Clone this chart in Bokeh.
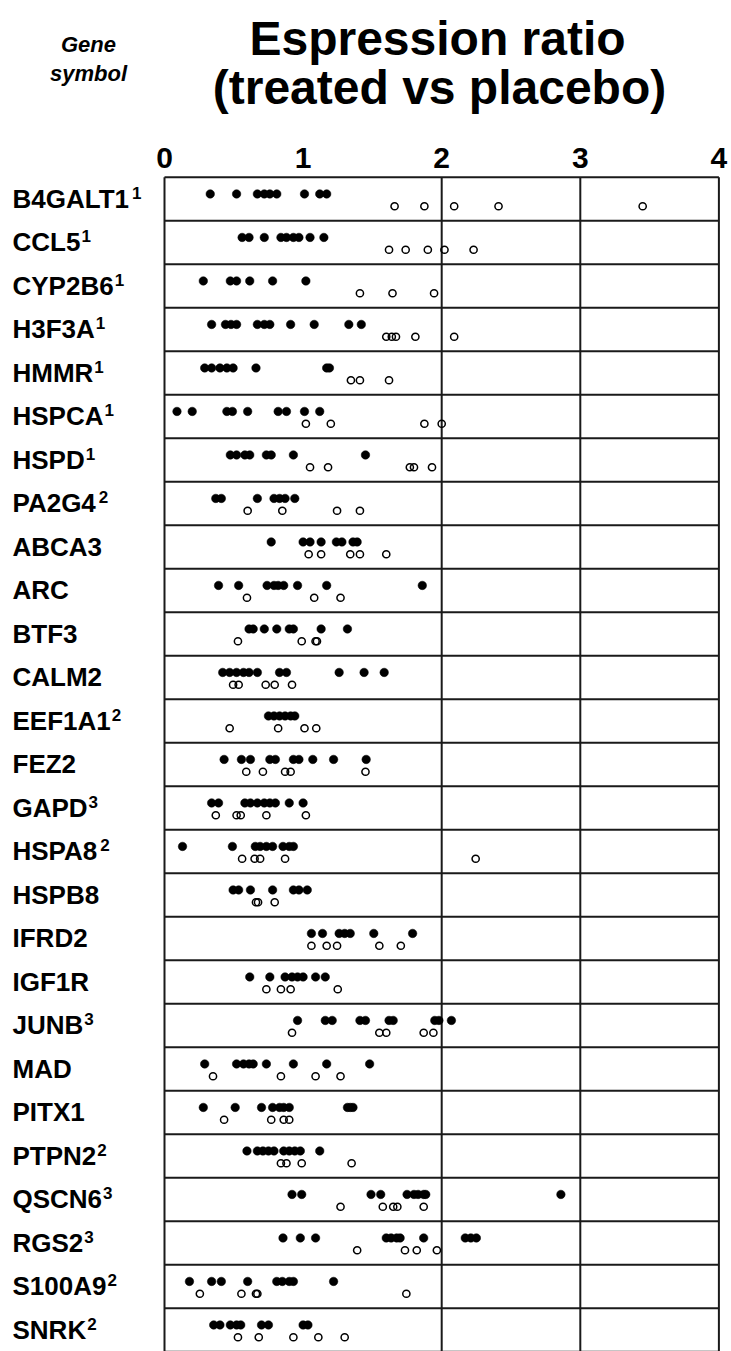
from bokeh.plotting import figure
from bokeh.models import Range1d
from bokeh.core.properties import value
from bokeh.embed import file_html
from bokeh.resources import INLINE

gene_names = ["B4GALT1", "CCL5", "CYP2B6", "H3F3A", "HMMR", "HSPCA", "HSPD", "PA2G4",
              "ABCA3", "ARC", "BTF3", "CALM2", "EEF1A1", "FEZ2", "GAPD", "HSPA8", "HSPB8",
              "IFRD2", "IGF1R", "JUNB", "MAD", "PITX1", "PTPN2", "QSCN6", "RGS2", "S100A9", "SNRK"]
gene_notes = ["1", "1", "1", "1", "1", "1", "1", "2",
              "", "", "", "", "2", "", "3", "2", "",
              "", "", "3", "", "", "2", "3", "3", "2", "2"]

filled_ratios = [
    [0.33, 0.52, 0.67, 0.72, 0.76, 0.81, 1.01, 1.12, 1.17],
    [0.56, 0.61, 0.72, 0.84, 0.88, 0.93, 0.97, 1.05, 1.15],
    [0.28, 0.475, 0.52, 0.615, 0.78, 1.02],
    [0.34, 0.44, 0.48, 0.52, 0.67, 0.72, 0.76, 0.91, 1.08, 1.33, 1.42],
    [0.29, 0.34, 0.40, 0.45, 0.495, 0.66, 1.17, 1.19],
    [0.09, 0.20, 0.45, 0.49, 0.60, 0.82, 0.88, 1.01, 1.12],
    [0.475, 0.52, 0.58, 0.615, 0.735, 0.77, 0.93, 1.45],
    [0.37, 0.41, 0.67, 0.79, 0.83, 0.87, 0.94],
    [0.77, 1.00, 1.05, 1.13, 1.24, 1.28, 1.36, 1.39],
    [0.39, 0.535, 0.74, 0.79, 0.82, 0.86, 0.96, 1.17, 1.86],
    [0.61, 0.64, 0.72, 0.81, 0.90, 0.93, 1.13, 1.32],
    [0.42, 0.47, 0.52, 0.57, 0.61, 0.67, 0.83, 0.88, 1.26, 1.44, 1.585],
    [0.75, 0.79, 0.83, 0.87, 0.91, 0.94],
    [0.43, 0.555, 0.62, 0.76, 0.80, 0.93, 0.97, 1.07, 1.22, 1.455],
    [0.34, 0.39, 0.58, 0.62, 0.67, 0.72, 0.76, 0.80, 0.90, 1.00],
    [0.13, 0.49, 0.655, 0.69, 0.735, 0.78, 0.855, 0.90, 0.93],
    [0.495, 0.535, 0.62, 0.78, 0.93, 0.97, 1.03],
    [1.06, 1.14, 1.26, 1.30, 1.34, 1.51, 1.79],
    [0.615, 0.76, 0.87, 0.92, 0.96, 1.00, 1.09, 1.16],
    [0.96, 1.16, 1.21, 1.41, 1.45, 1.62, 1.65, 1.95, 1.98, 2.07],
    [0.29, 0.52, 0.57, 0.61, 0.64, 0.735, 0.93, 1.17, 1.48],
    [0.28, 0.51, 0.70, 0.78, 0.83, 0.86, 0.90, 1.32, 1.34, 1.36],
    [0.595, 0.67, 0.71, 0.75, 0.79, 0.86, 0.90, 0.94, 0.98, 1.12],
    [0.92, 0.99, 1.49, 1.56, 1.75, 1.80, 1.83, 1.87, 1.885, 2.86],
    [0.855, 0.98, 1.09, 1.60, 1.635, 1.675, 1.70, 1.87, 2.17, 2.21, 2.25],
    [0.18, 0.34, 0.41, 0.60, 0.81, 0.85, 0.90, 0.93, 1.22],
    [0.355, 0.40, 0.475, 0.52, 0.55, 0.70, 0.75, 1.00, 1.035],
]

open_ratios = [
    [1.66, 1.875, 2.09, 2.41, 3.45],
    [1.62, 1.74, 1.90, 2.02, 2.23],
    [1.41, 1.645, 1.945],
    [1.60, 1.64, 1.67, 1.81, 2.09],
    [1.345, 1.41, 1.62],
    [1.02, 1.20, 1.875, 2.00],
    [1.05, 1.18, 1.77, 1.80, 1.93],
    [0.60, 0.85, 1.245, 1.41],
    [1.04, 1.13, 1.34, 1.41, 1.60],
    [0.595, 1.08, 1.27],
    [0.53, 0.99, 1.09, 1.10],
    [0.495, 0.535, 0.73, 0.795, 0.92],
    [0.47, 0.82, 1.01, 1.095],
    [0.59, 0.71, 0.87, 0.91, 1.45],
    [0.37, 0.52, 0.55, 0.735, 1.02],
    [0.56, 0.65, 0.69, 0.87, 2.245],
    [0.66, 0.675, 0.795],
    [1.06, 1.17, 1.245, 1.55, 1.705],
    [0.735, 0.84, 0.91, 1.25],
    [0.92, 1.55, 1.60, 1.87, 1.94],
    [0.35, 0.84, 1.09, 1.27],
    [0.43, 0.77, 0.86, 0.90],
    [0.84, 0.88, 0.99, 1.35],
    [1.27, 1.575, 1.65, 1.68, 1.87],
    [1.39, 1.735, 1.82, 1.965],
    [0.255, 0.555, 0.66, 0.67, 1.745],
    [0.53, 0.68, 0.93, 1.11, 1.30],
]

x_ticks = [0, 1, 2, 3, 4]
grid_x = [0, 2, 3, 4]
title_lines = ["Espression ratio", "(treated vs placebo)"]
side_lines = ["Gene", "symbol"]

n = len(gene_names)
FONT = "Liberation Sans"
LABEL_PX = 26
SUP_PX = 17

# Liberation Sans Bold advance widths (1/1000 em) for the characters used in labels
BOLD_W = {c: 722 for c in "ABCDHKNRU"}
BOLD_W.update({"E": 667, "F": 611, "G": 778, "I": 278, "J": 556, "L": 611, "M": 833, "O": 778,
               "P": 667, "Q": 778, "S": 667, "T": 611, "V": 667, "W": 944, "X": 667, "Y": 667, "Z": 611})
BOLD_W.update({d: 556 for d in "0123456789"})

# pixel geometry of the canvas: x=0 at 164px, 138.6 px per unit; row 0 top at 176.7px, 43.5 px per row
W, H = 731, 1351
U, X0 = 138.6, 164.0
R, Y0 = 43.5, 176.7


def dx(px):
    return (px - X0) / U


def dy(py):
    return (py - Y0) / R


p = figure(width=W, height=H,
           x_range=Range1d(dx(0), dx(W)), y_range=Range1d(dy(H), dy(0)),
           output_backend="svg", toolbar_location=None,
           x_axis_location=None, y_axis_location=None,
           min_border_left=0, min_border_right=0, min_border_top=0, min_border_bottom=0)
p.grid.visible = False
p.outline_line_color = None
p.background_fill_color = "white"
p.border_fill_color = "white"

# grid / frame lines
p.segment(x0=[0] * (n + 1), y0=list(range(n + 1)), x1=[4] * (n + 1), y1=list(range(n + 1)),
          line_color="#1a1a1a", line_width=2)
p.segment(x0=grid_x, y0=[0] * len(grid_x), x1=grid_x, y1=[n] * len(grid_x),
          line_color="#1a1a1a", line_width=2)

fx, fy, ox, oy = [], [], [], []
for i in range(n):
    for v in filled_ratios[i]:
        fx.append(v)
        fy.append(i + 0.385)
    for v in open_ratios[i]:
        ox.append(v)
        oy.append(i + 0.668)

p.scatter(fx, fy, size=8.5, fill_color="black", line_color="black", line_width=0.5)
p.scatter(ox, oy, size=7.2, fill_alpha=0, line_color="black", line_width=1.5)

# tick labels on top
p.text(x=x_ticks, y=[dy(157)] * len(x_ticks), text=[str(t) for t in x_ticks],
       text_font=value(FONT), text_font_style="bold", text_font_size=value("30px"),
       text_align="center", text_baseline="middle", text_color="black")

# gene labels
p.text(x=[dx(12)] * n, y=[i + 0.5 for i in range(n)], text=gene_names,
       text_font=value(FONT), text_font_style="bold", text_font_size=value(f"{LABEL_PX}px"),
       text_align="left", text_baseline="middle", text_color="black")

sx, sy, st = [], [], []
for i, (g, note) in enumerate(zip(gene_names, gene_notes)):
    if note:
        wpx = sum(BOLD_W.get(c, 600) for c in g) * LABEL_PX / 1000.0
        sx.append(dx(12 + wpx + 1))
        sy.append(i + 0.5 - 6.0 / R)
        st.append(note)
p.text(x=sx, y=sy, text=st,
       text_font=value(FONT), text_font_style="bold", text_font_size=value(f"{SUP_PX}px"),
       text_align="left", text_baseline="middle", text_color="black")

# headers
p.text(x=[dx(437), dx(439)], y=[dy(38), dy(87)], text=title_lines,
       text_font=value(FONT), text_font_style="bold", text_font_size=value("48px"),
       text_align="center", text_baseline="middle", text_color="black")
p.text(x=[dx(88)] * 2, y=[dy(44), dy(73)], text=side_lines,
       text_font=value(FONT), text_font_style="bold italic", text_font_size=value("22px"),
       text_align="center", text_baseline="middle", text_color="black")

open("out.html", "w").write(file_html(p, INLINE))
